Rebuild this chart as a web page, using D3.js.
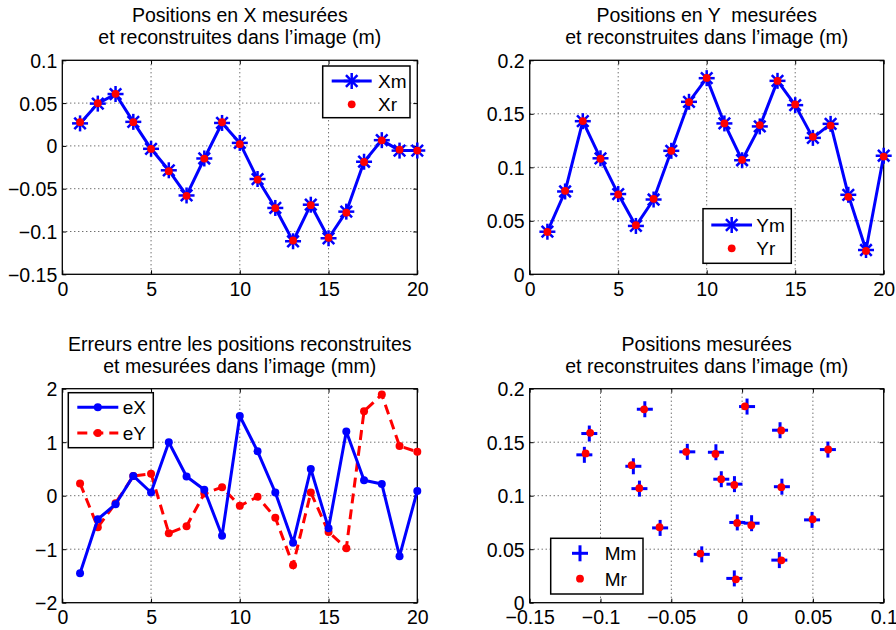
<!DOCTYPE html>
<html><head><meta charset="utf-8">
<script src="https://cdn.jsdelivr.net/npm/d3@7"></script>
<style>
html,body{margin:0;padding:0;background:#fff;}
svg{display:block;font-family:"Liberation Sans",Arial,Helvetica,sans-serif;}
</style></head>
<body><svg id="chart" width="896" height="630"></svg>
<script>
// ---- data ----
const idx = d3.range(1, 21);
const Xm = [0.0263, 0.0494, 0.0606, 0.0281, -0.0034, -0.0285, -0.0579, -0.0147, 0.0268, 0.0035, -0.0387, -0.0725, -0.1114, -0.0687, -0.1079, -0.0768, -0.0185, 0.0067, -0.0055, -0.0054];
const Xr = [0.0277, 0.0498, 0.0608, 0.0277, -0.0035, -0.0295, -0.0583, -0.0148, 0.0276, 0.0020, -0.0395, -0.0726, -0.1105, -0.0692, -0.1073, -0.0780, -0.0188, 0.0065, -0.0044, -0.0055];
const Ym = [0.0398, 0.0774, 0.1431, 0.1084, 0.0750, 0.0452, 0.0699, 0.1154, 0.1612, 0.1833, 0.1410, 0.1066, 0.1382, 0.1808, 0.1581, 0.1275, 0.1406, 0.0743, 0.0227, 0.1108];
const Yr = [0.0396, 0.0780, 0.1432, 0.1080, 0.0746, 0.0459, 0.0705, 0.1154, 0.1610, 0.1835, 0.1410, 0.1070, 0.1395, 0.1807, 0.1588, 0.1285, 0.1390, 0.0724, 0.0218, 0.1100];
const eX = [-1.45, -0.44, -0.16, 0.37, 0.06, 1.00, 0.36, 0.11, -0.75, 1.49, 0.83, 0.06, -0.88, 0.50, -0.61, 1.20, 0.29, 0.22, -1.13, 0.09];
const eY = [0.23, -0.59, -0.14, 0.37, 0.41, -0.70, -0.57, 0.04, 0.16, -0.19, -0.02, -0.41, -1.30, 0.06, -0.68, -0.98, 1.58, 1.89, 0.93, 0.82];

const ticksIdx = [0, 5, 10, 15, 20];
const ticksX = [-0.15, -0.1, -0.05, 0, 0.05, 0.1];
const ticksPos = [-0.15, -0.1, -0.05, 0, 0.05, 0.1];
const ticksY = [0, 0.05, 0.1, 0.15, 0.2];
const ticksErr = [-2, -1, 0, 1, 2];

const titles = {
  tl: ["Positions en X mesurées", "et reconstruites dans l\u2019image (m)"],
  tr: ["Positions en Y  mesurées", "et reconstruites dans l\u2019image (m)"],
  bl: ["Erreurs entre les positions reconstruites", "et mesurées dans l\u2019image (mm)"],
  br: ["Positions mesurées", "et reconstruites dans l\u2019image (m)"]
};

const BLUE = "#0000ff", RED = "#ff0000";
const FS = 19.5, TFS = 19.5, LFS = 19;
const svg = d3.select("#chart");

function fmt(v){ const s = d3.format("~g")(+v.toFixed(4)); return s.replace("-", "\u2212"); }

function panel(box, xd, yd, xt, yt, title){
  const g = svg.append("g");
  const x = d3.scaleLinear().domain(xd).range([box.x0, box.x1]);
  const y = d3.scaleLinear().domain(yd).range([box.y1, box.y0]);
  const grid = g.append("g").attr("stroke", "#333").attr("stroke-width", 1).attr("stroke-dasharray", "1,3");
  xt.filter(v => v > xd[0] && v < xd[1]).forEach(v => {
    grid.append("line").attr("x1", x(v)).attr("x2", x(v)).attr("y1", box.y0).attr("y2", box.y1);
  });
  yt.filter(v => v > yd[0] && v < yd[1]).forEach(v => {
    grid.append("line").attr("y1", y(v)).attr("y2", y(v)).attr("x1", box.x0).attr("x2", box.x1);
  });
  const ax = g.append("g").attr("transform", `translate(0,${box.y1})`)
    .call(d3.axisBottom(x).tickValues(xt).tickSize(-4).tickPadding(7).tickFormat(fmt));
  const ay = g.append("g").attr("transform", `translate(${box.x0},0)`)
    .call(d3.axisLeft(y).tickValues(yt).tickSize(-4).tickPadding(5).tickFormat(fmt));
  const axt = g.append("g").attr("transform", `translate(0,${box.y0})`)
    .call(d3.axisTop(x).tickValues(xt).tickSize(-4).tickFormat(""));
  const ayr = g.append("g").attr("transform", `translate(${box.x1},0)`)
    .call(d3.axisRight(y).tickValues(yt).tickSize(-4).tickFormat(""));
  [ax, ay, axt, ayr].forEach(a => {
    a.select(".domain").remove();
    a.selectAll("line").attr("stroke", "#000").attr("stroke-width", 1);
    a.selectAll("text").attr("font-size", FS).attr("fill", "#000").attr("font-family", "Liberation Sans, Arial, sans-serif");
  });
  ax.selectAll("text").attr("dy", "0.74em");
  ay.selectAll("text").attr("dy", "0.36em");
  g.append("rect").attr("x", box.x0).attr("y", box.y0).attr("width", box.x1 - box.x0).attr("height", box.y1 - box.y0)
    .attr("fill", "none").attr("stroke", "#000").attr("stroke-width", 1.3);
  const cx = (box.x0 + box.x1) / 2;
  title.forEach((t, i) => {
    g.append("text").attr("x", cx).attr("y", box.y0 - 38 + i * 22).attr("text-anchor", "middle")
      .attr("xml:space", "preserve").style("white-space", "pre")
      .attr("font-size", TFS).attr("fill", "#000").text(t);
  });
  const layer = g.append("g");
  return {x, y, g: layer};
}

function star(sel, cx, cy, r){
  const s = sel.append("g").attr("transform", `translate(${cx},${cy})`).attr("stroke", BLUE).attr("stroke-width", 2.5);
  const d = r * 0.72;
  s.append("line").attr("x1", -r).attr("x2", r).attr("y1", 0).attr("y2", 0);
  s.append("line").attr("y1", -r).attr("y2", r).attr("x1", 0).attr("x2", 0);
  s.append("line").attr("x1", -d).attr("y1", -d).attr("x2", d).attr("y2", d);
  s.append("line").attr("x1", -d).attr("y1", d).attr("x2", d).attr("y2", -d);
}
function plus(sel, cx, cy, r){
  const s = sel.append("g").attr("transform", `translate(${cx},${cy})`).attr("stroke", BLUE).attr("stroke-width", 3);
  s.append("line").attr("x1", -r).attr("x2", r).attr("y1", 0).attr("y2", 0);
  s.append("line").attr("y1", -r).attr("y2", r).attr("x1", 0).attr("x2", 0);
}
function legendBox(g, b){
  g.append("rect").attr("x", b[0]).attr("y", b[1]).attr("width", b[2] - b[0]).attr("height", b[3] - b[1])
    .attr("fill", "#fff").attr("stroke", "#000").attr("stroke-width", 1.5);
}
function ltext(g, x, y, t){
  g.append("text").attr("x", x).attr("y", y).attr("dy", "0.36em").attr("font-size", LFS).attr("fill", "#000").text(t);
}

// ---- Top-left: X positions ----
{
  const p = panel({x0: 62.3, x1: 417.3, y0: 60.3, y1: 274.3}, [0, 20], [-0.15, 0.1], ticksIdx, ticksX, titles.tl);
  const line = d3.line().x((d, i) => p.x(idx[i])).y(d => p.y(d));
  p.g.append("path").datum(Xm).attr("d", line).attr("fill", "none").attr("stroke", BLUE).attr("stroke-width", 3).attr("stroke-linejoin", "round");
  Xm.forEach((v, i) => star(p.g, p.x(idx[i]), p.y(v), 8));
  p.g.selectAll("circle.r").data(Xr).join("circle").attr("cx", (d, i) => p.x(idx[i])).attr("cy", d => p.y(d)).attr("r", 3.9).attr("fill", RED);
  legendBox(p.g, [322.7, 66, 410, 117.7]);
  p.g.append("line").attr("x1", 331.7).attr("x2", 371.7).attr("y1", 81).attr("y2", 81).attr("stroke", BLUE).attr("stroke-width", 3);
  star(p.g, 351.7, 81, 8);
  p.g.append("circle").attr("cx", 351.7).attr("cy", 104.3).attr("r", 3.9).attr("fill", RED);
  ltext(p.g, 378, 81, "Xm"); ltext(p.g, 378, 104.3, "Xr");
}
// ---- Top-right: Y positions ----
{
  const p = panel({x0: 529.7, x1: 883.7, y0: 60.3, y1: 274.3}, [0, 20], [0, 0.2], ticksIdx, ticksY, titles.tr);
  const line = d3.line().x((d, i) => p.x(idx[i])).y(d => p.y(d));
  p.g.append("path").datum(Ym).attr("d", line).attr("fill", "none").attr("stroke", BLUE).attr("stroke-width", 3).attr("stroke-linejoin", "round");
  Ym.forEach((v, i) => star(p.g, p.x(idx[i]), p.y(v), 8));
  p.g.selectAll("circle.r").data(Yr).join("circle").attr("cx", (d, i) => p.x(idx[i])).attr("cy", d => p.y(d)).attr("r", 3.9).attr("fill", RED);
  legendBox(p.g, [703, 208.7, 791.3, 263.3]);
  p.g.append("line").attr("x1", 711.3).attr("x2", 752).attr("y1", 225).attr("y2", 225).attr("stroke", BLUE).attr("stroke-width", 3);
  star(p.g, 731.7, 225, 8);
  p.g.append("circle").attr("cx", 731.7).attr("cy", 248.3).attr("r", 3.9).attr("fill", RED);
  ltext(p.g, 756.3, 225, "Ym"); ltext(p.g, 756.3, 248.3, "Yr");
}
// ---- Bottom-left: errors ----
{
  const p = panel({x0: 62.3, x1: 417.3, y0: 388.7, y1: 602.7}, [0, 20], [-2, 2], ticksIdx, ticksErr, titles.bl);
  const line = d3.line().x((d, i) => p.x(idx[i])).y(d => p.y(d));
  p.g.append("path").datum(eY).attr("d", line).attr("fill", "none").attr("stroke", RED).attr("stroke-width", 3).attr("stroke-dasharray", "10,6");
  p.g.selectAll("circle.ey").data(eY).join("circle").attr("cx", (d, i) => p.x(idx[i])).attr("cy", d => p.y(d)).attr("r", 4).attr("fill", RED);
  p.g.append("path").datum(eX).attr("d", line).attr("fill", "none").attr("stroke", BLUE).attr("stroke-width", 3).attr("stroke-linejoin", "round");
  p.g.selectAll("circle.ex").data(eX).join("circle").attr("cx", (d, i) => p.x(idx[i])).attr("cy", d => p.y(d)).attr("r", 4).attr("fill", BLUE);
  legendBox(p.g, [68.3, 392.7, 153.3, 447.7]);
  p.g.append("line").attr("x1", 77.3).attr("x2", 118.3).attr("y1", 407.3).attr("y2", 407.3).attr("stroke", BLUE).attr("stroke-width", 3);
  p.g.append("circle").attr("cx", 97.8).attr("cy", 407.3).attr("r", 4).attr("fill", BLUE);
  p.g.append("line").attr("x1", 77.3).attr("x2", 118.3).attr("y1", 433).attr("y2", 433).attr("stroke", RED).attr("stroke-width", 3).attr("stroke-dasharray", "10,6");
  p.g.append("circle").attr("cx", 97.8).attr("cy", 433).attr("r", 4).attr("fill", RED);
  ltext(p.g, 122.7, 407.3, "eX"); ltext(p.g, 122.7, 433, "eY");
}
// ---- Bottom-right: scatter ----
{
  const p = panel({x0: 529.7, x1: 883.7, y0: 388.7, y1: 602.7}, [-0.15, 0.1], [0, 0.2], ticksPos, ticksY, titles.br);
  Xm.forEach((v, i) => plus(p.g, p.x(v), p.y(Ym[i]), 8));
  Xr.forEach((v, i) => p.g.append("circle").attr("cx", p.x(v)).attr("cy", p.y(Yr[i])).attr("r", 3.9).attr("fill", RED));
  legendBox(p.g, [550.7, 538.3, 643, 594]);
  plus(p.g, 580, 553.3, 8);
  p.g.append("circle").attr("cx", 580).attr("cy", 578.7).attr("r", 3.9).attr("fill", RED);
  ltext(p.g, 604.7, 553.3, "Mm"); ltext(p.g, 604.7, 578.7, "Mr");
}
</script></body></html>
